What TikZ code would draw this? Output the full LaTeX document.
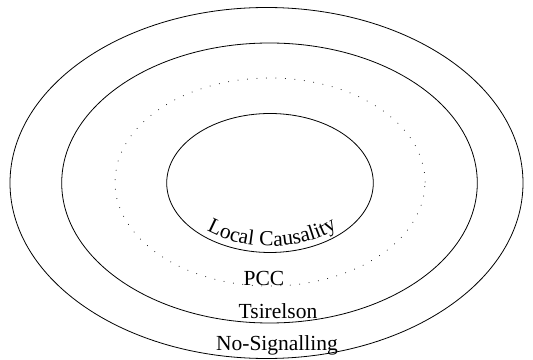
\documentclass[tikz,border=0pt]{standalone}
\usepackage{fontspec}
\setmainfont{Liberation Serif}
\newfontfamily\lcfont[LetterSpace=2.5]{Liberation Serif}
\usetikzlibrary{decorations.text}

\begin{document}
\begin{tikzpicture}[
    x=1pt, y=1pt,
    bound/.style={draw, line width=0.8pt},
    pcc/.style={draw, line width=1pt, line cap=round, dash pattern=on 0pt off 9.5pt},
    label/.style={inner sep=0pt, font=\fontsize{21.5}{21.5}\selectfont}
]
\useasboundingbox (0,0) rectangle (533,359);

% Sets
\draw[bound] (266.5,176) ellipse (256.5 and 175.5);
\draw[bound] (269.5,176) ellipse (207.8 and 140);
\draw[pcc] (270,177) ellipse (155 and 104);
\draw[bound] (270,176) ellipse (103.3 and 69.5);

% Labels
\path[decorate, decoration={text along path, text align=center,
    text={|\lcfont\fontsize{21.5}{21.5}\selectfont|Local Causality}}]
    (270,176) ++(200:97 and 63) arc (200:344:97 and 63);
\node[label, anchor=base] (pcc) at (264,74) {PCC};
\node[label, anchor=base] (tsirelson) at (278,41) {Tsirelson};
\node[label, anchor=base] (nosig) at (277,9) {No-Signalling};

\end{tikzpicture}
\end{document}
